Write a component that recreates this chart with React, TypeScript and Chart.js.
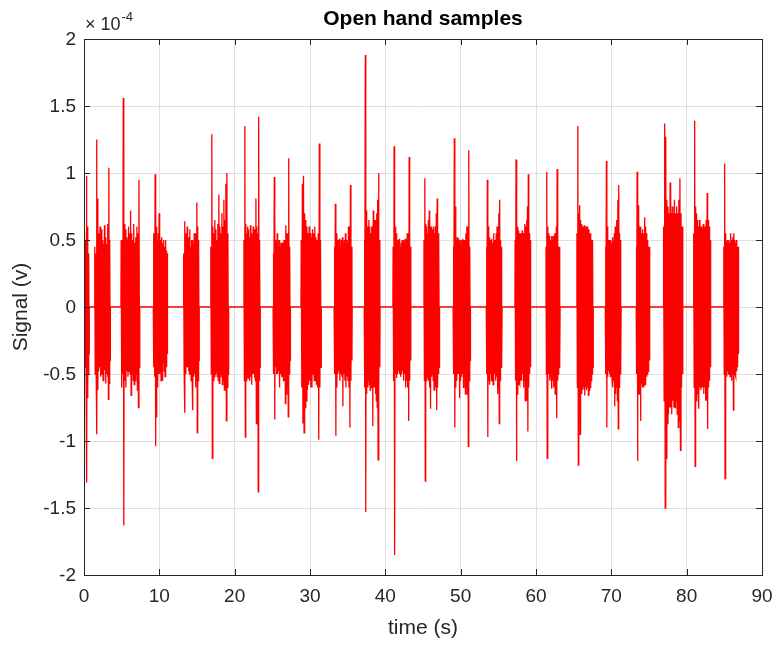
import React, { useEffect, useRef } from "react";
import { Chart, registerables } from "chart.js";

Chart.register(...registerables);

// Axis ticks
const xTickValues = [0, 10, 20, 30, 40, 50, 60, 70, 80, 90];
const yTickValues = [2, 1.5, 1, 0.5, 0, -0.5, -1, -1.5, -2];

// Burst timing (seconds)
const burstStart = [0.0, 1.4, 4.9, 9.2, 13.2, 16.8, 21.2, 25.1, 28.8, 33.2, 37.2, 41.0, 45.1, 49.0, 53.4, 57.2, 61.3, 65.4, 69.2, 73.3, 76.9, 80.9, 84.9];
const burstEnd = [0.7, 3.5, 7.4, 11.1, 15.3, 19.2, 23.4, 27.4, 31.5, 35.6, 39.3, 43.4, 47.2, 51.3, 55.5, 59.3, 63.2, 67.6, 71.3, 75.1, 79.5, 83.2, 86.9];

// Burst sample values, in units of 1e-4 V
const burstA = [0.56, -0.38, 0.42, -0.45, 0.5, -0.48, 0.98, -1.31, 0.6, -0.68, 0.45, -0.5, 0.4, -0.35];
const burstB = [0.45, -0.5, 0.4, -0.38, 1.25, -0.95, 0.81, -0.62, 0.55, -0.48, 0.5, -0.45, 0.6, -0.52, 0.42, -0.5, 0.58, -0.45, 0.5, -0.55, 0.47, -0.4, 0.61, -0.47, 0.52, -0.57, 0.47, -0.5, 0.45, -0.52, 0.62, -0.69, 1.04, -0.57, 0.5, -0.4];
const burstC = [0.5, -0.6, 0.45, -0.5, 1.56, -1.63, 0.62, -0.55, 0.58, -0.6, 0.52, -0.48, 0.5, -0.52, 0.6, -0.48, 0.55, -0.5, 0.72, -0.66, 0.55, -0.5, 0.5, -0.55, 0.62, -0.58, 0.48, -0.55, 0.52, -0.5, 0.6, -0.62, 0.55, -0.75, 0.95, -0.45];
const burstD = [0.55, -0.45, 0.5, -0.52, 0.99, -1.04, 0.73, -0.82, 0.6, -0.55, 0.5, -0.6, 0.55, -0.5, 0.7, -0.5, 0.55, -0.48, 0.5, -0.55, 0.52, -0.5, 0.45, -0.55, 0.48, -0.42, 0.5, -0.48, 0.45, -0.52, 0.5, -0.52, 0.42, -0.45, 0.4, -0.35];
const burstE = [0.4, -0.45, 0.64, -0.79, 0.55, -0.5, 0.48, -0.45, 0.6, -0.45, 0.52, -0.48, 0.45, -0.5, 0.58, -0.5, 0.45, -0.55, 0.5, -0.48, 0.5, -0.77, 0.47, -0.52, 0.55, -0.5, 0.5, -0.6, 0.55, -0.55, 0.78, -0.94, 0.6, -0.55, 0.5, -0.4];
const burstF = [0.45, -0.5, 1.29, -1.13, 0.6, -0.55, 0.55, -0.52, 0.65, -0.5, 0.58, -0.48, 0.5, -0.52, 0.62, -0.55, 0.84, -0.57, 0.6, -0.52, 0.55, -0.5, 0.7, -0.58, 0.6, -0.55, 0.8, -0.62, 0.65, -0.6, 0.92, -0.85, 1.0, -0.6, 0.55, -0.5];
const burstG = [0.5, -0.55, 1.35, -0.97, 0.62, -0.55, 0.55, -0.5, 0.6, -0.53, 0.58, -0.5, 0.52, -0.55, 0.61, -0.52, 0.55, -0.58, 0.5, -0.5, 0.6, -0.5, 0.55, -0.53, 0.58, -0.55, 0.81, -0.87, 0.6, -0.6, 0.55, -1.38, 1.42, -0.55, 0.5, -0.45];
const burstH = [0.4, -0.5, 0.97, -0.84, 0.5, -0.45, 0.48, -0.5, 0.55, -0.5, 0.45, -0.48, 0.5, -0.6, 0.45, -0.5, 0.48, -0.52, 0.45, -0.52, 0.48, -0.55, 0.5, -0.48, 0.5, -0.72, 0.61, -0.65, 0.55, -0.6, 0.55, -0.82, 1.11, -0.5, 0.45, -0.4];
const burstI = [0.5, -0.6, 0.92, -0.87, 0.98, -0.94, 0.7, -0.75, 0.65, -0.7, 0.6, -0.62, 0.55, -0.58, 0.6, -0.55, 0.55, -0.6, 0.52, -0.6, 0.58, -0.5, 0.55, -0.55, 0.6, -0.55, 0.52, -0.58, 0.5, -0.6, 0.55, -0.99, 1.22, -0.6, 0.5, -0.45];
const burstJ = [0.45, -0.5, 0.77, -0.96, 0.55, -0.6, 0.5, -0.5, 0.5, -0.48, 0.51, -0.55, 0.45, -0.5, 0.5, -0.52, 0.52, -0.74, 0.48, -0.5, 0.5, -0.55, 0.55, -0.6, 0.5, -0.52, 0.48, -0.55, 0.6, -0.6, 0.6, -0.9, 0.91, -0.55, 0.45, -0.4];
const burstK = [0.5, -0.6, 1.88, -1.53, 0.72, -0.65, 0.6, -0.6, 0.6, -0.55, 0.65, -0.58, 0.6, -0.62, 0.55, -0.6, 0.6, -0.55, 0.6, -0.89, 0.72, -0.6, 0.65, -0.6, 0.6, -0.65, 0.65, -0.7, 0.7, -0.75, 0.8, -1.14, 1.0, -0.6, 0.5, -0.45];
const burstL = [0.45, -0.55, 1.2, -1.85, 0.6, -0.5, 0.55, -0.53, 0.5, -0.5, 0.5, -0.48, 0.51, -0.5, 0.45, -0.52, 0.48, -0.5, 0.5, -0.48, 0.5, -0.55, 0.48, -0.5, 0.51, -0.6, 0.5, -0.55, 0.55, -0.6, 0.55, -0.85, 1.12, -0.55, 0.45, -0.4];
const burstM = [0.5, -0.55, 0.96, -1.3, 0.62, -0.55, 0.6, -0.5, 0.55, -0.52, 0.65, -0.55, 0.72, -0.6, 0.55, -0.76, 0.6, -0.52, 0.55, -0.5, 0.58, -0.55, 0.6, -0.62, 0.55, -0.55, 0.6, -0.6, 0.7, -0.77, 0.81, -0.6, 0.55, -0.5, 0.5, -0.45];
const burstN = [0.45, -0.5, 1.26, -0.9, 0.75, -0.6, 0.5, -0.55, 0.52, -0.5, 0.51, -0.5, 0.48, -0.68, 0.5, -0.55, 0.47, -0.52, 0.5, -0.5, 0.51, -0.6, 0.5, -0.55, 0.5, -0.65, 0.55, -0.6, 0.6, -0.65, 0.6, -1.04, 1.17, -0.55, 0.45, -0.4];
const burstO = [0.45, -0.5, 0.95, -0.97, 0.6, -0.55, 0.52, -0.58, 0.5, -0.5, 0.5, -0.55, 0.51, -0.5, 0.48, -0.58, 0.55, -0.52, 0.5, -0.5, 0.5, -0.55, 0.55, -0.52, 0.6, -0.65, 0.6, -0.6, 0.7, -0.87, 0.8, -0.55, 0.5, -0.45, 0.45, -0.4];
const burstP = [0.5, -0.55, 1.1, -1.15, 0.7, -0.65, 0.6, -0.58, 0.57, -0.55, 0.55, -0.57, 0.55, -0.55, 0.52, -0.55, 0.57, -0.5, 0.55, -0.6, 0.55, -0.55, 0.62, -0.7, 0.6, -0.6, 0.65, -0.7, 0.75, -0.93, 0.99, -0.6, 0.55, -0.5, 0.5, -0.45];
const burstQ = [0.45, -0.5, 1.01, -1.13, 0.6, -0.55, 0.55, -0.5, 0.53, -0.55, 0.5, -0.52, 0.5, -0.5, 0.53, -0.61, 0.5, -0.55, 0.53, -0.6, 0.5, -0.55, 0.55, -0.65, 0.55, -0.6, 0.6, -0.83, 1.03, -0.55, 0.5, -0.5, 0.45, -0.45, 0.45, -0.4];
const burstR = [0.55, -0.6, 1.35, -1.18, 0.7, -0.65, 0.76, -0.95, 0.65, -0.6, 0.62, -0.65, 0.6, -0.62, 0.6, -0.6, 0.61, -0.66, 0.58, -0.6, 0.6, -0.62, 0.6, -0.6, 0.55, -0.66, 0.58, -0.62, 0.55, -0.6, 0.55, -0.55, 0.5, -0.5, 0.5, -0.45];
const burstS = [0.45, -0.5, 1.09, -0.9, 0.6, -0.52, 0.5, -0.48, 0.48, -0.5, 0.5, -0.52, 0.5, -0.5, 0.48, -0.55, 0.52, -0.6, 0.5, -0.55, 0.55, -0.74, 0.6, -0.65, 0.6, -0.6, 0.65, -0.7, 0.8, -0.91, 0.91, -0.6, 0.55, -0.5, 0.5, -0.45];
const burstT = [0.45, -0.5, 1.01, -1.15, 0.65, -0.6, 0.76, -0.65, 0.6, -0.62, 0.55, -0.85, 0.6, -0.57, 0.55, -0.55, 0.58, -0.6, 0.55, -0.6, 0.55, -0.55, 0.67, -0.58, 0.6, -0.55, 0.55, -0.52, 0.5, -0.5, 0.5, -0.48, 0.45, -0.45, 0.45, -0.4];
const burstU = [0.6, -0.7, 1.37, -1.5, 1.27, -1.13, 0.8, -0.87, 0.75, -0.8, 0.7, -0.75, 0.93, -0.75, 0.7, -0.8, 0.75, -0.7, 0.7, -0.75, 0.8, -0.75, 0.7, -0.7, 0.75, -0.8, 0.7, -0.9, 0.8, -0.85, 0.96, -1.07, 0.7, -0.6, 0.6, -0.5];
const burstV = [0.55, -0.6, 1.39, -1.19, 0.75, -0.7, 0.7, -0.65, 0.65, -0.6, 0.6, -0.76, 0.65, -0.6, 0.6, -0.62, 0.6, -0.6, 0.58, -0.6, 0.62, -0.65, 0.6, -0.6, 0.6, -0.7, 0.65, -0.7, 0.85, -0.91, 0.65, -0.6, 0.6, -0.55, 0.5, -0.45];
const burstW = [0.45, -0.5, 1.07, -1.28, 0.55, -0.5, 0.48, -0.52, 0.5, -0.48, 0.45, -0.5, 0.5, -0.5, 0.48, -0.52, 0.55, -0.5, 0.5, -0.55, 0.5, -0.5, 0.52, -0.77, 0.55, -0.5, 0.5, -0.5, 0.48, -0.52, 0.5, -0.48, 0.45, -0.45, 0.45, -0.35];

const burstValues = [burstA, burstB, burstC, burstD, burstE, burstF, burstG, burstH, burstI, burstJ, burstK, burstL, burstM, burstN, burstO, burstP, burstQ, burstR, burstS, burstT, burstU, burstV, burstW];

const titleText = "Open hand samples";
const xLabel = "time (s)";
const yLabel = "Signal (v)";

function buildPoints() {
  const pts: { x: number; y: number }[] = [];
  for (let b = 0; b < burstValues.length; b++) {
    const s = burstStart[b];
    const e = burstEnd[b];
    const vals = burstValues[b];
    const n = vals.length;
    pts.push({ x: s, y: 0 });
    for (let j = 0; j < n; j++) {
      pts.push({ x: s + ((j + 0.5) * (e - s)) / n, y: vals[j] });
    }
    pts.push({ x: e, y: 0 });
  }
  return pts;
}

const FONT = '"Liberation Sans", Arial, Helvetica, sans-serif';
const TEXT = "#262626";

const decorPlugin = {
  id: "decor",
  afterDraw(chart: any) {
    const ctx = chart.ctx;
    const a = chart.chartArea;
    const xs = chart.scales.x;
    const ys = chart.scales.y;
    ctx.save();
    // box
    ctx.strokeStyle = TEXT;
    ctx.lineWidth = 1;
    ctx.strokeRect(Math.round(a.left) + 0.5, Math.round(a.top) + 0.5, Math.round(a.right - a.left), Math.round(a.bottom - a.top));
    // tick marks
    const tl = 6;
    ctx.beginPath();
    for (const v of xTickValues) {
      const px = Math.round(xs.getPixelForValue(v)) + 0.5;
      ctx.moveTo(px, a.bottom);
      ctx.lineTo(px, a.bottom - tl);
      ctx.moveTo(px, a.top);
      ctx.lineTo(px, a.top + tl);
    }
    for (const v of yTickValues) {
      const py = Math.round(ys.getPixelForValue(v)) + 0.5;
      ctx.moveTo(a.left, py);
      ctx.lineTo(a.left + tl, py);
      ctx.moveTo(a.right, py);
      ctx.lineTo(a.right - tl, py);
    }
    ctx.stroke();
    // tick labels
    ctx.fillStyle = TEXT;
    ctx.font = `19px ${FONT}`;
    ctx.textAlign = "center";
    ctx.textBaseline = "top";
    for (const v of xTickValues) {
      ctx.fillText(String(v), xs.getPixelForValue(v), a.bottom + 12);
    }
    ctx.textAlign = "right";
    ctx.textBaseline = "middle";
    for (const v of yTickValues) {
      ctx.fillText(String(v), a.left - 8, ys.getPixelForValue(v) + 1);
    }
    // exponent
    ctx.textAlign = "left";
    ctx.textBaseline = "alphabetic";
    ctx.font = `18px ${FONT}`;
    ctx.fillText("\u00d7 10", a.left + 1, a.top - 9);
    const w = ctx.measureText("\u00d7 10").width;
    ctx.font = `13px ${FONT}`;
    ctx.fillText("-4", a.left + 1 + w + 1, a.top - 18);
    // axis labels
    ctx.font = `21px ${FONT}`;
    ctx.textAlign = "center";
    ctx.textBaseline = "middle";
    ctx.fillText(xLabel, (a.left + a.right) / 2, 628);
    ctx.save();
    ctx.translate(21, (a.top + a.bottom) / 2);
    ctx.rotate(-Math.PI / 2);
    ctx.fillText(yLabel, 0, 0);
    ctx.restore();
    // title
    ctx.font = `bold 21px ${FONT}`;
    ctx.fillStyle = "#000000";
    ctx.fillText(titleText, (a.left + a.right) / 2, 19);
    ctx.restore();
  },
};

export default function App() {
  const ref = useRef<HTMLCanvasElement | null>(null);
  useEffect(() => {
    document.body.style.margin = "0";
    const canvas = ref.current;
    if (!canvas) return;
    const chart = new Chart(canvas, {
      type: "line",
      data: {
        datasets: [
          {
            data: buildPoints(),
            borderColor: "#ff0000",
            borderWidth: 1.3,
            pointRadius: 0,
            tension: 0,
            fill: false,
          },
        ],
      },
      options: {
        animation: false,
        responsive: false,
        maintainAspectRatio: false,
        devicePixelRatio: 1,
        layout: { padding: { left: 0, top: 39, right: 16, bottom: 0 } },
        plugins: { legend: { display: false }, tooltip: { enabled: false }, title: { display: false } },
        scales: {
          x: {
            type: "linear",
            min: 0,
            max: 90,
            ticks: { stepSize: 10, display: false },
            grid: { color: "#dfdfdf", drawTicks: false, lineWidth: 1 },
            border: { display: true, color: TEXT },
            afterFit: (s: any) => {
              s.height = 71;
            },
          },
          y: {
            type: "linear",
            min: -2,
            max: 2,
            ticks: { stepSize: 0.5, display: false },
            grid: { color: "#dfdfdf", drawTicks: false, lineWidth: 1 },
            border: { display: true, color: TEXT },
            afterFit: (s: any) => {
              s.width = 84;
            },
          },
        },
      },
      plugins: [decorPlugin],
    } as any);
    return () => chart.destroy();
  }, []);
  return (
    <div style={{ width: 778, height: 646, background: "#ffffff" }}>
      <canvas ref={ref} width={778} height={646} style={{ display: "block", width: 778, height: 646 }} />
    </div>
  );
}
